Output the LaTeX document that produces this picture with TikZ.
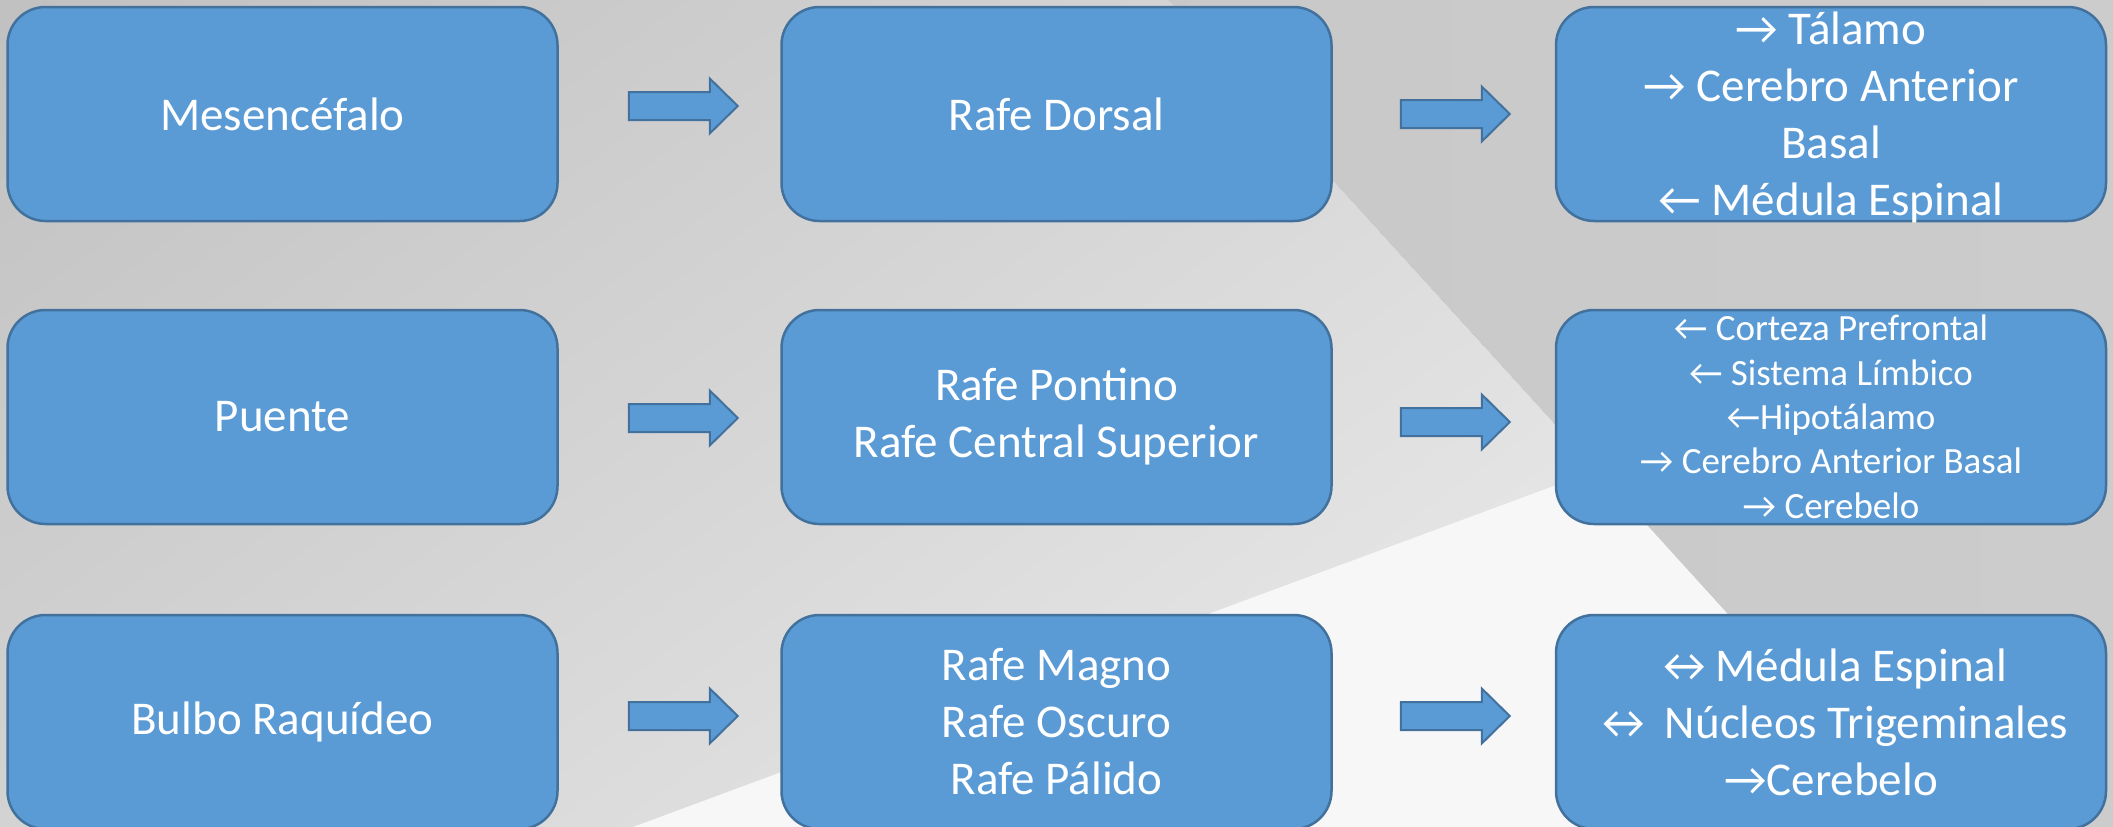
\documentclass[tikz,border=0pt]{standalone}
\usepackage{fontspec}
\setmainfont{Carlito}
\usetikzlibrary{calc}
\definecolor{boxfill}{HTML}{5B9BD5}
\definecolor{boxline}{HTML}{41719C}
\definecolor{bgleft}{HTML}{C4C4C4}
\definecolor{bgright}{HTML}{CCCCCC}
\definecolor{bgwhite}{HTML}{F7F7F7}
\tikzset{
  box/.style={draw=boxline, fill=boxfill, line width=2.5pt, rounded corners=38pt,
    minimum width=550pt, minimum height=214pt, inner sep=0pt, text=white,
    align=center, font=\fontsize{47}{57}\selectfont},
  smalltext/.style={font=\fontsize{37}{44.3}\selectfont},
  arrowstyle/.style={draw=boxline, fill=boxfill, line width=2pt, line join=miter},
  barrow/.pic={\path[arrowstyle] (0,-14) -- (81,-14) -- (81,-27.5) -- (109,0)
      -- (81,27.5) -- (81,14) -- (0,14) -- cycle;}
}
\begin{document}
\begin{tikzpicture}[x=1pt,y=-1pt]
\useasboundingbox (0,0) rectangle (2113,827);
% background
\shade[left color=bgleft, right color=bgright] (0,0) rectangle (2113,827);
\begin{scope}
  \clip (-10,-10) -- (1159,-10) -- (1930,837) -- (-10,837) -- cycle;
  \foreach \j in {0,...,35}{
    \pgfmathsetmacro{\g}{(193+\j)/255}
    \definecolor{bandc}{gray}{\g}
    \pgfmathsetmacro{\xa}{62.5*\j+13.75}
    \pgfmathsetmacro{\xb}{62.5*\j-1150.9}
    \fill[bandc] (\xa,-10) -- (2200,-10) -- (2200,837) -- (\xb,837) -- cycle;
  }
\end{scope}
\fill[bgwhite] (633,827) -- (1597,470) -- (1921,827) -- cycle;
% boxes
\node[box] (mes) at (282.5,114) {Mesencéfalo};
\node[box] (rd) at (1056.5,114) {Rafe Dorsal};
\node[box] (t1) at (1831,114) {\raisebox{-101pt}[0pt][0pt]{\begin{tabular}[b]{@{}c@{}}→ Tálamo\\→ Cerebro Anterior\\Basal\\← Médula Espinal\end{tabular}}};
\node[box] (pue) at (282.5,417) {Puente};
\node[box] (rp) at (1056.5,417) {Rafe Pontino\\Rafe Central Superior};
\node[box, smalltext] (t2) at (1831,417) {\raisebox{-101pt}[0pt][0pt]{\begin{tabular}[b]{@{}c@{}}← Corteza Prefrontal\\← Sistema Límbico\\←Hipotálamo\\→ Cerebro Anterior Basal\\→ Cerebelo\end{tabular}}};
\node[box] (bul) at (282.5,722) {Bulbo Raquídeo};
\node[box] (rm) at (1056.5,722) {Rafe Magno\\Rafe Oscuro\\Rafe Pálido};
\node[box] (t3) at (1831,722) {↔Médula Espinal\\↔ Núcleos Trigeminales\\→Cerebelo};
% block arrows
\pic at ($(mes.east)+(70,-8)$) {barrow};
\pic at ($(rd.east)+(68,0)$) {barrow};
\pic at ($(pue.east)+(70,1)$) {barrow};
\pic at ($(rp.east)+(68,5)$) {barrow};
\pic at ($(bul.east)+(70,-6)$) {barrow};
\pic at ($(rm.east)+(68,-6)$) {barrow};
\end{tikzpicture}
\end{document}
